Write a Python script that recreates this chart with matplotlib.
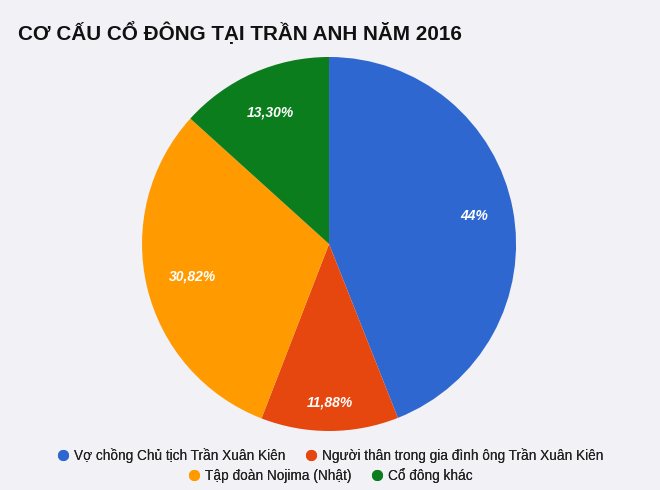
import matplotlib
matplotlib.use("Agg")
import matplotlib.pyplot as plt
import numpy as np
from matplotlib.lines import Line2D

plt.rcParams['font.family'] = ['Liberation Sans', 'DejaVu Sans']

# --- dati ---
title = "CƠ CẤU CỔ ĐÔNG TẠI TRẦN ANH NĂM 2016"
labels = ["Vợ chồng Chủ tịch Trần Xuân Kiên",
          "Người thân trong gia đình ông Trần Xuân Kiên",
          "Tập đoàn Nojima (Nhật)",
          "Cổ đông khác"]
values = [44, 11.88, 30.82, 13.30]
value_text = ["44%", "11,88%", "30,82%", "13,30%"]
colors = ["#2f67d0", "#e6470f", "#ff9a00", "#0b7d1c"]
bg = "#f2f1f5"
# distanza radiale delle etichette (come nel grafico originale)
label_r = [0.79, 0.845, 0.75, 0.77]

fig = plt.figure(figsize=(6.6, 4.9), dpi=100, facecolor=bg)
ax = fig.add_axes([0.2152, 0.1204, 0.5667, 0.7633])
ax.set_facecolor(bg)

wedges, _ = ax.pie(values, colors=colors, startangle=90, counterclock=False,
                   wedgeprops=dict(linewidth=0))
for w, txt, r in zip(wedges, value_text, label_r):
    mid = np.deg2rad((w.theta1 + w.theta2) / 2)
    ax.text(r * np.cos(mid), r * np.sin(mid), txt, color="white",
            fontweight="bold", fontstyle="italic", fontsize=10,
            ha="center", va="center")
ax.set_xlim(-1, 1)
ax.set_ylim(-1, 1)
ax.set_aspect("equal")

fig.text(0.027, 0.935, title, fontsize=14.9, fontweight="bold",
         color="#111111", ha="left", va="center")

# legenda su due righe
def handles(idx):
    return [Line2D([], [], marker="o", linestyle="", markersize=8,
                   markerfacecolor=colors[i], markeredgewidth=0) for i in idx]

for idx, y in [((0, 1), 0.071), ((2, 3), 0.030)]:
    leg = fig.legend(handles(idx), [labels[i] for i in idx], ncol=2,
                     loc="center", bbox_to_anchor=(0.5, y), frameon=False,
                     fontsize=9.8, handletextpad=0.3, columnspacing=1.4,
                     handlelength=1.0, labelcolor="#222222")
    fig.add_artist(leg)

fig.savefig("out.png", dpi=100, facecolor=bg)
